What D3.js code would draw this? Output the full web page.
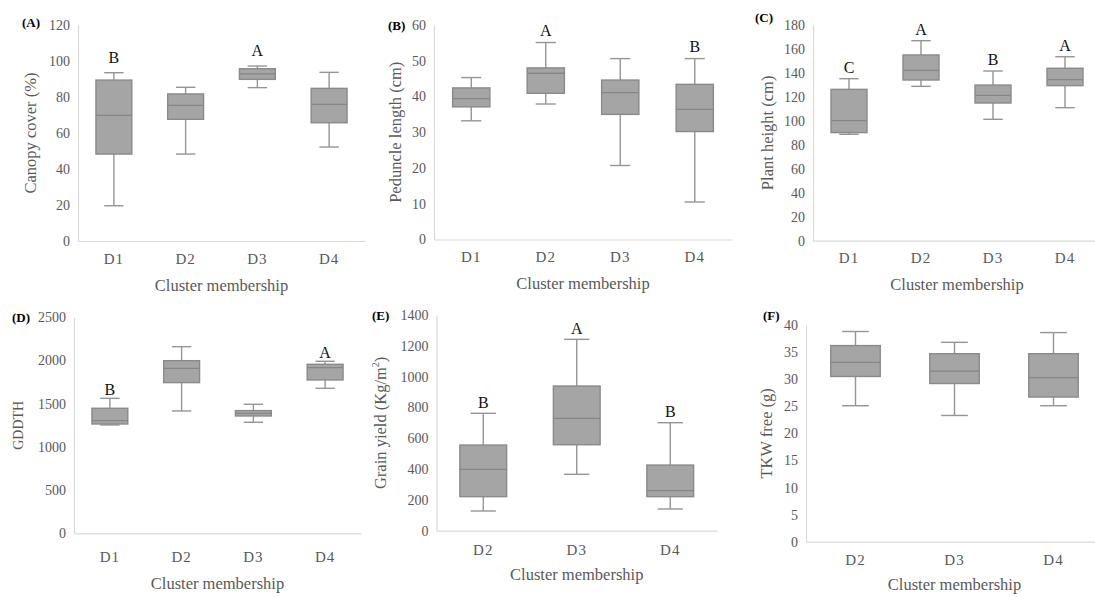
<!DOCTYPE html>
<html>
<head>
<meta charset="utf-8">
<script src="https://cdn.jsdelivr.net/npm/d3@7/dist/d3.min.js"></script>
<style>
  html, body { margin: 0; padding: 0; background: #fff; }
  svg { display: block; font-family: "Liberation Serif", "Times New Roman", serif; }
</style>
</head>
<body>
<svg id="chart" width="1095" height="597"></svg>
<script>
// Cluster groups shown on the x axes
const clusters4 = ["D1", "D2", "D3", "D4"];
const clusters3 = ["D2", "D3", "D4"];

// Five-number summaries per cluster: [min, Q1, median, Q3, max]
const canopyCover = [
  [19.6, 48.3, 69.8, 89.4, 93.5],
  [48.3, 67.6, 75.4, 81.7, 85.4],
  [85.2, 89.8, 92.8, 95.7, 97.2],
  [52.2, 65.7, 75.9, 84.8, 93.7]
];
const canopyLetters = ["B", "", "A", ""];
const canopyTicks = [0, 20, 40, 60, 80, 100, 120];

const peduncleLength = [
  [33.2, 37.1, 39.4, 42.4, 45.3],
  [37.9, 40.9, 46.5, 48.0, 55.1],
  [20.7, 35.0, 41.1, 44.6, 50.6],
  [10.5, 30.2, 36.4, 43.4, 50.6]
];
const peduncleLetters = ["", "A", "", "B"];
const peduncleTicks = [0, 10, 20, 30, 40, 50, 60];

const plantHeight = [
  [88.8, 90.2, 100.2, 126.3, 135.2],
  [128.8, 134.1, 142.2, 155.0, 166.9],
  [101.3, 114.9, 121.3, 129.9, 141.6],
  [111.0, 129.4, 134.4, 143.9, 153.5]
];
const plantLetters = ["C", "A", "B", "A"];
const plantTicks = [0, 20, 40, 60, 80, 100, 120, 140, 160, 180];

const gddth = [
  [1254, 1265, 1304, 1447, 1562],
  [1416, 1744, 1910, 1998, 2160],
  [1285, 1358, 1389, 1420, 1493],
  [1678, 1775, 1917, 1956, 1991]
];
const gddthLetters = ["B", "", "", "A"];
const gddthTicks = [0, 500, 1000, 1500, 2000, 2500];

const grainYield = [
  [128, 221, 398, 556, 762],
  [366, 558, 729, 939, 1242],
  [141, 221, 260, 426, 701]
];
const grainLetters = ["B", "A", "B"];
const grainTicks = [0, 200, 400, 600, 800, 1000, 1200, 1400];

const tkwFree = [
  [25.1, 30.5, 33.1, 36.2, 38.8],
  [23.3, 29.2, 31.5, 34.7, 36.8],
  [25.1, 26.7, 30.3, 34.7, 38.6]
];
const tkwLetters = ["", "", ""];
const tkwTicks = [0, 5, 10, 15, 20, 25, 30, 35, 40];

// Panel frames (plot area in pixels) and text placement
const panels = [
  { tag: "(A)", cats: clusters4, stats: canopyCover, letters: canopyLetters, ticks: canopyTicks,
    yTitle: "Canopy cover (%)", x0: 78, x1: 365, y0: 25, y1: 241,
    tagX: 22, tagY: 27, titleDx: -46, xTickOff: 12, xTitleOff: 46, letterGap: 10 },
  { tag: "(B)", cats: clusters4, stats: peduncleLength, letters: peduncleLetters, ticks: peduncleTicks,
    yTitle: "Peduncle length (cm)", x0: 434, x1: 732, y0: 25, y1: 239.5,
    tagX: 388, tagY: 30, titleDx: -37, xTickOff: 12, xTitleOff: 46, letterGap: 6.5 },
  { tag: "(C)", cats: clusters4, stats: plantHeight, letters: plantLetters, ticks: plantTicks,
    yTitle: "Plant height (cm)", x0: 813, x1: 1101, y0: 25, y1: 240.7,
    tagX: 755, tagY: 22, titleDx: -44, xTickOff: 12, xTitleOff: 45.5, letterGap: 6 },
  { tag: "(D)", cats: clusters4, stats: gddth, letters: gddthLetters, ticks: gddthTicks,
    yTitle: "GDDTH", yTitleSize: 14, x0: 74, x1: 361, y0: 317.3, y1: 533.3,
    tagX: 12, tagY: 322, titleDx: -54, xTickOff: 18, xTitleOff: 52, letterGap: 3 },
  { tag: "(E)", cats: clusters3, stats: grainYield, letters: grainLetters, ticks: grainTicks,
    yTitle: "Grain yield (Kg/m", sup: "2", yTitleEnd: ")", x0: 436.5, x1: 717, y0: 315, y1: 530.7,
    tagX: 372, tagY: 320, titleDx: -55, xTickOff: 14, xTitleOff: 46, letterGap: 5.5 },
  { tag: "(F)", cats: clusters3, stats: tkwFree, letters: tkwLetters, ticks: tkwTicks,
    yTitle: "TKW free (g)", x0: 806, x1: 1103, y0: 325, y1: 541.7,
    tagX: 763, tagY: 320, titleDx: -38, xTickOff: 13, xTitleOff: 44.5, letterGap: 6 }
];

const svg = d3.select("#chart");
const axisColor = "#d9d9d9";
const textGrey = "#595959";
const boxFill = "#a5a5a5";
const boxStroke = "#8a8a8a";
const whiskerStroke = "#959595";

panels.forEach(p => {
  const g = svg.append("g");
  const x = d3.scaleBand().domain(p.cats).range([p.x0, p.x1]);
  const y = d3.scaleLinear().domain([p.ticks[0], p.ticks[p.ticks.length - 1]]).range([p.y1, p.y0]);

  // y axis
  const ya = g.append("g")
    .attr("transform", `translate(${p.x0},0)`)
    .call(d3.axisLeft(y).tickValues(p.ticks).tickSize(0).tickPadding(8).tickFormat(d3.format("d")));
  ya.select(".domain").attr("stroke", axisColor).attr("stroke-width", 1.2);
  ya.selectAll("text").attr("fill", textGrey).style("font-size", "14px")
    .style("font-family", "'Liberation Serif', serif");

  // x axis
  const xa = g.append("g")
    .attr("transform", `translate(0,${p.y1})`)
    .call(d3.axisBottom(x).tickSize(0).tickPadding(p.xTickOff));
  xa.select(".domain").attr("stroke", axisColor).attr("stroke-width", 1.2);
  xa.selectAll("text").attr("fill", textGrey).style("font-size", "15px")
    .style("letter-spacing", "1px")
    .style("font-family", "'Liberation Serif', serif");

  // axis titles
  g.append("text")
    .attr("x", (p.x0 + p.x1) / 2).attr("y", p.y1 + p.xTitleOff)
    .attr("text-anchor", "middle").attr("dominant-baseline", "middle")
    .attr("fill", textGrey).style("font-size", "16.5px")
    .text("Cluster membership");

  const yt = g.append("text")
    .attr("transform", `translate(${p.x0 + p.titleDx},${(p.y0 + p.y1) / 2}) rotate(-90)`)
    .attr("text-anchor", "middle").attr("dominant-baseline", "middle")
    .attr("fill", textGrey).style("font-size", (p.yTitleSize || 16.5) + "px");
  yt.append("tspan").text(p.yTitle);
  if (p.sup) {
    yt.append("tspan").attr("baseline-shift", "super").style("font-size", "10px").text(p.sup);
    yt.append("tspan").text(p.yTitleEnd);
  }

  // panel tag
  g.append("text")
    .attr("x", p.tagX).attr("y", p.tagY)
    .attr("fill", "#000").style("font-size", "13px").style("font-weight", "bold")
    .text(p.tag);

  // boxes and whiskers
  const bw = x.bandwidth() / 2;
  const cap = bw * 0.27;
  p.cats.forEach((c, i) => {
    const [mn, q1, md, q3, mx] = p.stats[i];
    const cx = x(c) + x.bandwidth() / 2;
    const bg = g.append("g");
    bg.append("line").attr("x1", cx).attr("x2", cx).attr("y1", y(mx)).attr("y2", y(q3))
      .attr("stroke", whiskerStroke).attr("stroke-width", 1.4);
    bg.append("line").attr("x1", cx).attr("x2", cx).attr("y1", y(q1)).attr("y2", y(mn))
      .attr("stroke", whiskerStroke).attr("stroke-width", 1.4);
    bg.append("line").attr("x1", cx - cap).attr("x2", cx + cap).attr("y1", y(mx)).attr("y2", y(mx))
      .attr("stroke", whiskerStroke).attr("stroke-width", 1.4);
    bg.append("line").attr("x1", cx - cap).attr("x2", cx + cap).attr("y1", y(mn)).attr("y2", y(mn))
      .attr("stroke", whiskerStroke).attr("stroke-width", 1.4);
    bg.append("rect").attr("x", cx - bw / 2).attr("width", bw)
      .attr("y", y(q3)).attr("height", y(q1) - y(q3))
      .attr("fill", boxFill).attr("stroke", boxStroke).attr("stroke-width", 1.4);
    bg.append("line").attr("x1", cx - bw / 2).attr("x2", cx + bw / 2).attr("y1", y(md)).attr("y2", y(md))
      .attr("stroke", "#868686").attr("stroke-width", 1.3);

    if (p.letters[i]) {
      g.append("text")
        .attr("x", cx).attr("y", y(mx) - p.letterGap)
        .attr("text-anchor", "middle").attr("fill", "#111")
        .style("font-size", "16px")
        .text(p.letters[i]);
    }
  });
});
</script>
</body>
</html>
